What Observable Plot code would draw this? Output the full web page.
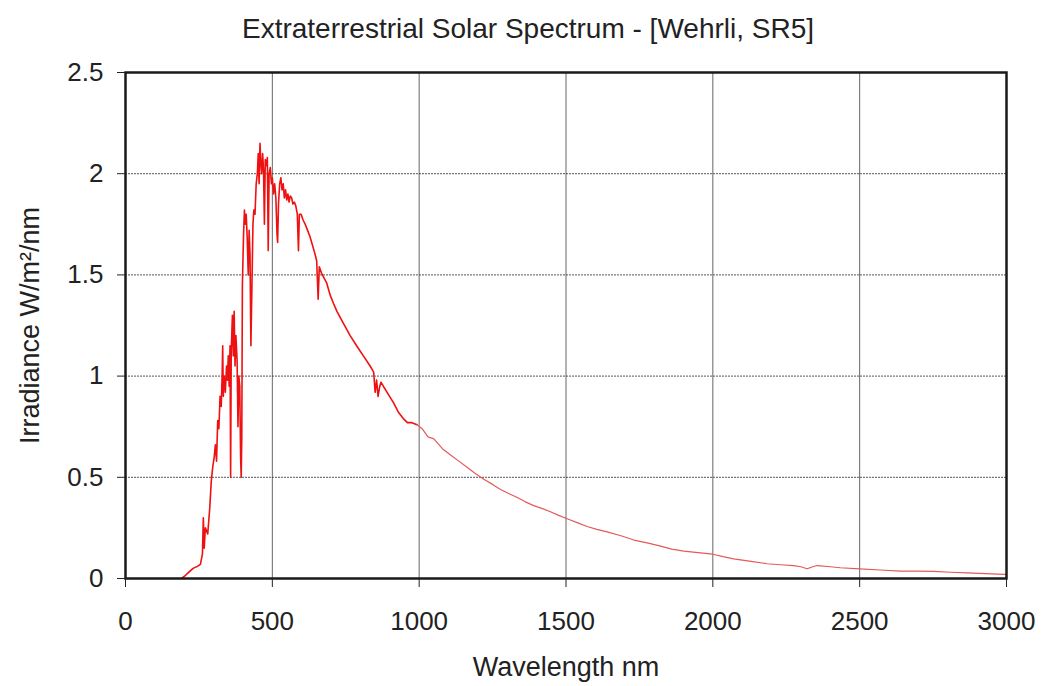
<!DOCTYPE html>
<html>
<head>
<meta charset="utf-8">
<script src="https://cdn.jsdelivr.net/npm/d3@7"></script>
<script src="https://cdn.jsdelivr.net/npm/@observablehq/plot@0.6"></script>
<style>
  html, body { margin: 0; padding: 0; background: #fff; }
  #wrap { width: 1042px; height: 686px; position: relative; font-family: "Liberation Sans", Arial, sans-serif; }
  #title { height: 50px; line-height: 58px; text-align: center; font-size: 28px; color: #222; padding-left: 14px; box-sizing: border-box; white-space: nowrap; }
</style>
</head>
<body>
<div id="wrap">
  <div id="title"></div>
  <div id="chart"></div>
</div>
<script>
const titleText = "Extraterrestrial Solar Spectrum - [Wehrli, SR5]";
const xLabel = "Wavelength nm";
const yLabel = "Irradiance W/m²/nm";
const xTicks = [0, 500, 1000, 1500, 2000, 2500, 3000];
const yTicks = [0, 0.5, 1, 1.5, 2, 2.5];

const wavelength = [
  190, 200, 215, 230, 245, 255, 262, 265, 268, 272, 280, 287, 292, 297, 302, 306, 310, 314, 318, 322,
  326, 329, 331, 333, 336, 340, 344, 347, 350, 353, 356, 358, 360, 364, 367, 370, 373, 376, 380, 383,
  386, 389, 392, 394, 396, 398, 402, 405, 408, 411, 414, 418, 421, 424, 427, 430, 434, 437, 441, 445,
  449, 452, 455, 458, 461, 464, 467, 470, 473, 476, 480, 483, 486, 489, 493, 497, 500, 504, 508, 512,
  516, 518, 521, 525, 529, 533, 537, 541, 545, 549, 553, 557, 561, 566, 570, 575, 580, 585, 589, 592,
  598, 605, 612, 620, 628, 636, 644, 651, 656, 660, 667, 674, 685, 697, 708, 720, 742, 765, 787, 810,
  833, 845, 850, 855, 860, 866, 870, 878, 895, 912, 930, 946, 960, 975, 993, 1010, 1030, 1050, 1080, 1107,
  1135, 1163, 1190, 1220, 1250, 1277, 1305, 1334, 1360, 1390, 1420, 1447, 1475, 1504, 1540, 1572, 1605, 1640, 1690, 1731,
  1780, 1822, 1860, 1901, 1950, 2000, 2035, 2071, 2130, 2185, 2230, 2275, 2300, 2321, 2340, 2355, 2400, 2434, 2500, 2570,
  2639, 2700, 2752, 2810, 2866, 2930, 2990, 3000
];
const irradiance = [
  0.00, 0.01, 0.03, 0.05, 0.06, 0.07, 0.12, 0.30, 0.15, 0.25, 0.22, 0.35, 0.48, 0.55, 0.60, 0.66, 0.58, 0.78, 0.74, 0.90,
  0.85, 1.00, 1.15, 0.90, 1.00, 0.92, 1.05, 0.98, 1.10, 0.95, 1.15, 0.50, 1.12, 1.30, 1.10, 1.32, 1.05, 1.20, 1.08, 0.75,
  1.00, 0.95, 0.60, 0.50, 0.70, 1.45, 1.70, 1.82, 1.75, 1.80, 1.70, 1.50, 1.72, 1.60, 1.15, 1.40, 1.75, 1.82, 1.80, 1.95,
  2.00, 2.10, 1.95, 2.15, 2.05, 2.00, 2.10, 2.02, 1.75, 2.07, 2.04, 2.08, 1.62, 2.00, 2.03, 1.95, 1.98, 1.90, 1.95, 1.88,
  1.70, 1.66, 1.85, 1.95, 1.98, 1.92, 1.95, 1.88, 1.92, 1.87, 1.90, 1.86, 1.89, 1.88, 1.85, 1.86, 1.84, 1.80, 1.62, 1.80,
  1.80, 1.77, 1.75, 1.72, 1.69, 1.65, 1.61, 1.57, 1.38, 1.54, 1.51, 1.49, 1.46, 1.40, 1.36, 1.32, 1.26, 1.20, 1.15, 1.10,
  1.05, 1.02, 0.92, 0.98, 0.90, 0.95, 0.97, 0.95, 0.91, 0.87, 0.82, 0.79, 0.77, 0.77, 0.76, 0.74, 0.70, 0.69, 0.64, 0.61,
  0.58, 0.55, 0.52, 0.49, 0.465, 0.44, 0.42, 0.40, 0.38, 0.36, 0.345, 0.33, 0.312, 0.295, 0.275, 0.257, 0.243, 0.23, 0.21, 0.19,
  0.175, 0.16, 0.145, 0.135, 0.128, 0.12, 0.108, 0.097, 0.085, 0.073, 0.068, 0.064, 0.058, 0.048, 0.058, 0.064, 0.058, 0.053, 0.048, 0.042,
  0.036, 0.036, 0.035, 0.031, 0.028, 0.024, 0.020, 0.020
];

const data = wavelength.map((w, i) => ({ w, v: irradiance[i] }));
const visible = data.filter(d => d.w <= 1000);
const infrared = data.filter(d => d.w >= 993);
document.getElementById("title").textContent = titleText;

const chart = Plot.plot({
  width: 1042,
  height: 636,
  marginTop: 22,
  marginBottom: 108,
  marginLeft: 125,
  marginRight: 36,
  style: { fontFamily: "'Liberation Sans', Arial, sans-serif", fontSize: "26px", color: "#222", background: "#fff" },
  x: { domain: [0, 3000] },
  y: { domain: [0, 2.5] },
  marks: [
    Plot.gridX(xTicks.slice(1, -1), { stroke: "#555", strokeOpacity: 0.9, strokeWidth: 1 }),
    Plot.gridY(yTicks.slice(1, -1), { stroke: "#444", strokeOpacity: 0.9, strokeWidth: 1, strokeDasharray: "2,1" }),
    Plot.line(visible, { x: "w", y: "v", stroke: "#ee1111", strokeWidth: 1.6 }),
    Plot.line(infrared, { x: "w", y: "v", stroke: "#e35a5a", strokeWidth: 1.2 }),
    Plot.frame({ stroke: "#1a1a1a", strokeWidth: 2.5 }),
    Plot.axisX(xTicks, { tickSize: 9, tickPadding: 24, tickFormat: d => String(d), fontSize: 26,
      label: xLabel, labelAnchor: "center", labelArrow: "none", labelOffset: 97 }),
    Plot.axisY(yTicks, { tickSize: 8, tickPadding: 14, tickFormat: d => String(d), fontSize: 26,
      label: yLabel, labelAnchor: "center", labelArrow: "none", labelOffset: 106 })
  ]
});
chart.querySelectorAll("[aria-label='y-axis label'] text, [aria-label='x-axis label'] text").forEach(t => t.setAttribute("font-size", 27));
document.getElementById("chart").appendChild(chart);
</script>
</body>
</html>
